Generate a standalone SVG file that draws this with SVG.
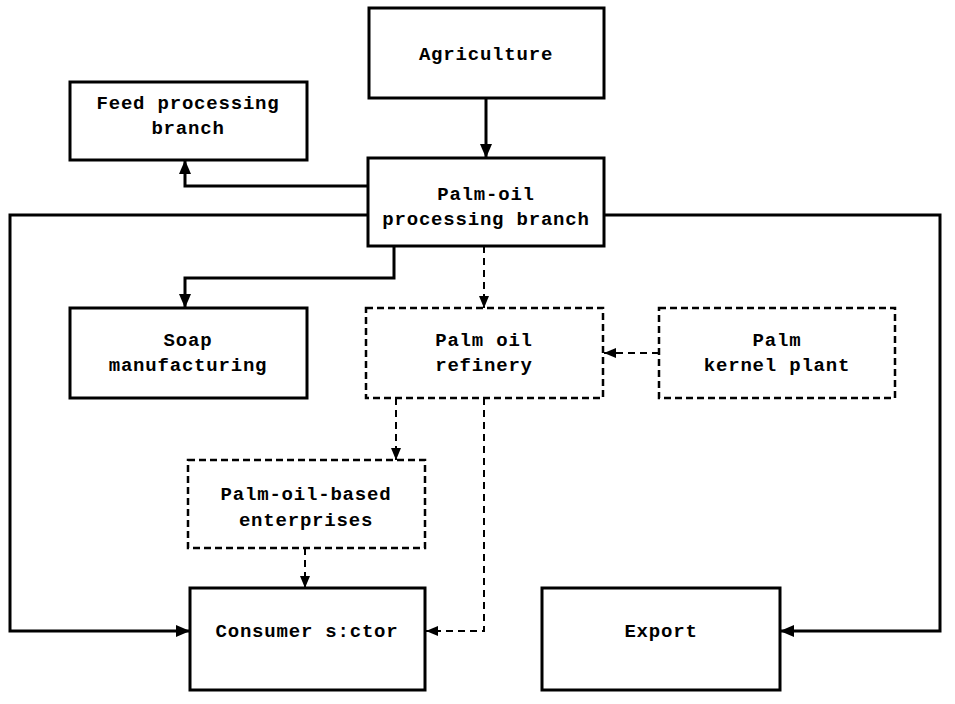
<svg xmlns="http://www.w3.org/2000/svg" width="955" height="704" viewBox="0 0 955 704">
  <style>
    .box { fill: #fff; stroke: #000; stroke-width: 3; }
    .dbox { fill: #fff; stroke: #000; stroke-width: 2.5; stroke-dasharray: 7 4; }
    .wire { fill: none; stroke: #000; stroke-width: 3; }
    .dwire { fill: none; stroke: #000; stroke-width: 2; stroke-dasharray: 7 5; }
    text { font-family: "Liberation Mono", "DejaVu Sans Mono", monospace; font-weight: bold; font-size: 19px; letter-spacing: 0.8px; text-anchor: middle; fill: #000; }
  </style>
  <defs>
    <marker id="arrow" markerUnits="userSpaceOnUse" markerWidth="14" markerHeight="12" refX="14" refY="6" orient="auto">
      <path d="M0,0 L14,6 L0,12 z" fill="#000"/>
    </marker>
    <marker id="arrowSmall" markerUnits="userSpaceOnUse" markerWidth="12" markerHeight="10" refX="12" refY="5" orient="auto">
      <path d="M0,0 L12,5 L0,10 z" fill="#000"/>
    </marker>
  </defs>
  <rect width="955" height="704" fill="#fff"/>

  <g id="connectors">
    <path class="wire" d="M486,98 V158" marker-end="url(#arrow)"/>
    <path class="wire" d="M368,186 H185 V160" marker-end="url(#arrow)"/>
    <path class="wire" d="M368,215 H10 V631 H190" marker-end="url(#arrow)"/>
    <path class="wire" d="M604,215 H940 V631 H780" marker-end="url(#arrow)"/>
    <path class="wire" d="M394,246 V278 H185 V308" marker-end="url(#arrow)"/>
    <path class="dwire" d="M484,246 V308" marker-end="url(#arrowSmall)"/>
    <path class="dwire" d="M659,353 H604" marker-end="url(#arrowSmall)"/>
    <path class="dwire" d="M396,398 V460" marker-end="url(#arrowSmall)"/>
    <path class="dwire" d="M305,548 V588" marker-end="url(#arrowSmall)"/>
    <path class="dwire" d="M484,398 V631 H426" marker-end="url(#arrowSmall)"/>
  </g>

  <g id="agriculture">
    <rect class="box" x="369" y="8" width="235" height="90"/>
    <text x="486" y="60">Agriculture</text>
  </g>
  <g id="feed-processing">
    <rect class="box" x="70" y="82" width="237" height="78"/>
    <text x="188" y="109">Feed processing</text>
    <text x="188" y="134">branch</text>
  </g>
  <g id="palm-oil-processing">
    <rect class="box" x="368" y="158" width="236" height="88"/>
    <text x="486" y="200">Palm-oil</text>
    <text x="486" y="225">processing branch</text>
  </g>
  <g id="soap">
    <rect class="box" x="70" y="308" width="237" height="90"/>
    <text x="188" y="346">Soap</text>
    <text x="188" y="371">manufacturing</text>
  </g>
  <g id="refinery">
    <rect class="dbox" x="366" y="308" width="237" height="90"/>
    <text x="484" y="346">Palm oil</text>
    <text x="484" y="371">refinery</text>
  </g>
  <g id="kernel-plant">
    <rect class="dbox" x="659" y="308" width="236" height="90"/>
    <text x="777" y="346">Palm</text>
    <text x="777" y="371">kernel plant</text>
  </g>
  <g id="enterprises">
    <rect class="dbox" x="188" y="460" width="237" height="88"/>
    <text x="306" y="500">Palm-oil-based</text>
    <text x="306" y="526">enterprises</text>
  </g>
  <g id="consumer">
    <rect class="box" x="190" y="588" width="235" height="102"/>
    <text x="307" y="637">Consumer s:ctor</text>
  </g>
  <g id="export">
    <rect class="box" x="542" y="588" width="238" height="102"/>
    <text x="661" y="637">Export</text>
  </g>
</svg>
